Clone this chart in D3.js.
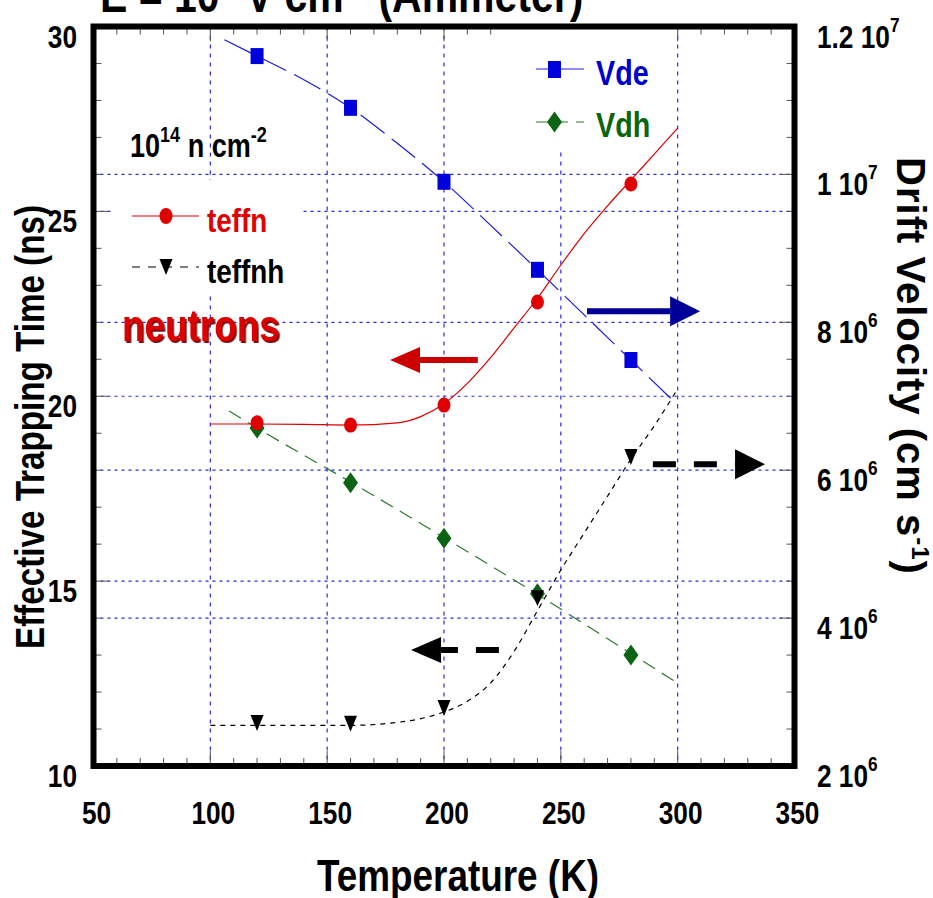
<!DOCTYPE html>
<html>
<head>
<meta charset="utf-8">
<script src="https://cdn.jsdelivr.net/npm/d3@7"></script>
<style>
  body { margin: 0; background: #fff; }
  svg text { font-family: "Liberation Sans", Arial, sans-serif; font-weight: bold; }
</style>
</head>
<body>
<svg id="chart"></svg>
<script>
// measured points (temperature in K)
const temps = [120, 160, 200, 240, 280];
const teffn = [19.28, 19.22, 19.76, 22.55, 25.74];      // ns
const teffnh = [11.16, 11.14, 11.57, 14.54, 18.36];     // ns
const vde = [11.6e6, 10.9e6, 9.9e6, 8.71e6, 7.49e6];    // cm/s
const vdh = [6.57e6, 5.83e6, 5.08e6, 4.33e6, 3.5e6];    // cm/s

// fitted curves
const fitT = [100, 120, 140, 160, 180, 190, 200, 210, 220, 230, 240, 250, 260, 270, 280, 290, 300];
const teffnFit = [19.25, 19.25, 19.24, 19.22, 19.28, 19.45, 19.8, 20.35, 21.05, 21.85, 22.65, 23.55, 24.4, 25.15, 25.85, 26.55, 27.25];
const teffnhFit = [11.1, 11.1, 11.1, 11.1, 11.18, 11.28, 11.46, 11.75, 12.25, 13.1, 14.2, 15.3, 16.3, 17.3, 18.3, 19.2, 20.2];
const vdeFitT = [106, 120, 140, 160, 180, 200, 220, 240, 260, 280, 300];
const vdeFit = [11.82e6, 11.6e6, 11.28e6, 10.9e6, 10.42e6, 9.9e6, 9.31e6, 8.71e6, 8.1e6, 7.49e6, 6.88e6];
const vdhFitT = [108, 120, 160, 200, 240, 280, 300];
const vdhFit = [6.8e6, 6.57e6, 5.84e6, 5.09e6, 4.32e6, 3.52e6, 3.12e6];

// axis ticks
const xTicks = [50, 100, 150, 200, 250, 300, 350];
const leftTicks = [10, 15, 20, 25, 30];
const rightTicks = [2e6, 4e6, 6e6, 8e6, 1e7, 1.2e7];
const rightTickText = [["2 10", "6"], ["4 10", "6"], ["6 10", "6"], ["8 10", "6"], ["1 10", "7"], ["1.2 10", "7"]];

// direction arrows (from, to in data units)
const arrows = [
  { t0: 214.5, t1: 176.9, v: 20.98, axis: "L", color: "#cc0000", dashed: false },
  { t0: 261.2, t1: 309.6, v: 8.15e6, axis: "R", color: "#000099", dashed: false },
  { t0: 289.4, t1: 337.4, v: 6.08e6, axis: "R", color: "#000", dashed: true },
  { t0: 223.5, t1: 185.9, v: 13.14, axis: "L", color: "#000", dashed: true }
];

const width = 933, height = 898;
const narrow = 0.82;
const svg = d3.select("#chart").attr("width", width).attr("height", height);

svg.append("defs").append("filter").attr("id", "shadow")
  .append("feDropShadow").attr("dx", 2).attr("dy", 2).attr("stdDeviation", 0)
  .attr("flood-color", "#7a1010").attr("flood-opacity", 1);

const x = d3.scaleLinear().domain([50, 350]).range([93.5, 794.5]);
const yL = d3.scaleLinear().domain([10, 30]).range([766, 26.5]);
const yR = d3.scaleLinear().domain([2e6, 1.2e7]).range([766, 26.5]);

// condensed bold text, squeezed along its own direction
function label(px, py, size, opts = {}) {
  const g = svg.append("g")
    .attr("transform", `translate(${px},${py}) rotate(${opts.rotate || 0}) scale(${opts.sx || narrow},1)`);
  return g.append("text").attr("font-size", size)
    .attr("text-anchor", opts.anchor || "start")
    .attr("fill", opts.fill || "#000");
}

// title (cut off at the top)
const title = label(100, 12, 50);
title.append("tspan").text("E = 10");
title.append("tspan").attr("dy", -20).attr("font-size", 32).text("4");
title.append("tspan").attr("dy", 20).text(" V cm");
title.append("tspan").attr("dy", -20).attr("font-size", 32).text("-1");
title.append("tspan").attr("dy", 20).text("  (Ammeter)");

// grid
const grid = svg.append("g").attr("stroke", "#2a2ae8").attr("stroke-width", 1.2);
grid.selectAll(".gx").data([100, 150, 200, 250, 300]).enter().append("line")
  .attr("x1", d => x(d)).attr("x2", d => x(d))
  .attr("y1", yL(30)).attr("y2", yL(10))
  .attr("stroke-dasharray", "4,5");
grid.selectAll(".gl").data([15, 20, 25]).enter().append("line")
  .attr("x1", x(50)).attr("x2", x(350))
  .attr("y1", d => yL(d)).attr("y2", d => yL(d))
  .attr("stroke-dasharray", "3,4");
grid.selectAll(".gr").data([4e6, 6e6, 8e6, 1e7]).enter().append("line")
  .attr("x1", x(50)).attr("x2", x(350))
  .attr("y1", d => yR(d)).attr("y2", d => yR(d))
  .attr("stroke-dasharray", "3,4");

// ticks (inside the frame)
const ticks = svg.append("g").attr("stroke", "#555").attr("stroke-width", 1);
const xt = d3.range(60, 350, 10);
ticks.selectAll(".xb").data(xt).enter().append("line")
  .attr("x1", d => x(d)).attr("x2", d => x(d))
  .attr("y1", yL(10)).attr("y2", d => yL(10) - (d % 50 === 0 ? 15 : 8));
ticks.selectAll(".xt").data(xt).enter().append("line")
  .attr("x1", d => x(d)).attr("x2", d => x(d))
  .attr("y1", yL(30)).attr("y2", d => yL(30) + (d % 50 === 0 ? 15 : 8));
const lt = d3.range(11, 30, 1);
ticks.selectAll(".yl").data(lt).enter().append("line")
  .attr("x1", x(50)).attr("x2", d => x(50) + (d % 5 === 0 ? 15 : 8))
  .attr("y1", d => yL(d)).attr("y2", d => yL(d));
const rt = d3.range(2.5e6, 1.2e7, 0.5e6);
ticks.selectAll(".yr").data(rt).enter().append("line")
  .attr("x1", x(350)).attr("x2", d => x(350) - (Math.round(d / 1e6 * 10) % 20 === 0 ? 15 : 8))
  .attr("y1", d => yR(d)).attr("y2", d => yR(d));

// legend backgrounds hide grid and ticks
svg.append("rect").attr("x", 113).attr("y", 180).attr("width", 190).attr("height", 112).attr("fill", "#fff");
svg.append("rect").attr("x", 496).attr("y", 29).attr("width", 164).attr("height", 122).attr("fill", "#fff");

// fit curves
const lineL = d3.line().x(d => x(d[0])).y(d => yL(d[1])).curve(d3.curveMonotoneX);
const lineR = d3.line().x(d => x(d[0])).y(d => yR(d[1])).curve(d3.curveMonotoneX);

svg.append("path").attr("d", lineR(d3.zip(vdeFitT, vdeFit)))
  .attr("fill", "none").attr("stroke", "#1a1ae6").attr("stroke-width", 1.2).attr("stroke-dasharray", "30,9");
svg.append("path").attr("d", lineR(d3.zip(vdhFitT, vdhFit)))
  .attr("fill", "none").attr("stroke", "#2a7a2a").attr("stroke-width", 1.2).attr("stroke-dasharray", "14,8");
svg.append("path").attr("d", lineL(d3.zip(fitT, teffnFit)))
  .attr("fill", "none").attr("stroke", "#e00000").attr("stroke-width", 1.2);
svg.append("path").attr("d", lineL(d3.zip(fitT, teffnhFit)))
  .attr("fill", "none").attr("stroke", "#000").attr("stroke-width", 1.2).attr("stroke-dasharray", "5,5");

// markers
const diamond = "M0,-10.5L7.5,0L0,10.5L-7.5,0Z";
const triDown = "M-6.5,-8L6.5,-8L0,8Z";
svg.selectAll(".sq").data(d3.zip(temps, vde)).enter().append("rect")
  .attr("x", d => x(d[0]) - 6.5).attr("y", d => yR(d[1]) - 8)
  .attr("width", 13).attr("height", 16).attr("fill", "#0000dd");
svg.selectAll(".dm").data(d3.zip(temps, vdh)).enter().append("path")
  .attr("d", diamond).attr("transform", d => `translate(${x(d[0])},${yR(d[1])})`).attr("fill", "#0a6414");
svg.selectAll(".ci").data(d3.zip(temps, teffn)).enter().append("ellipse")
  .attr("cx", d => x(d[0])).attr("cy", d => yL(d[1])).attr("rx", 6.5).attr("ry", 7.5).attr("fill", "#e00000");
svg.selectAll(".tr").data(d3.zip(temps, teffnh)).enter().append("path")
  .attr("d", triDown).attr("transform", d => `translate(${x(d[0])},${yL(d[1])})`).attr("fill", "#000");

// frame
svg.append("rect").attr("x", x(50)).attr("y", yL(30))
  .attr("width", x(350) - x(50)).attr("height", yL(10) - yL(30))
  .attr("fill", "none").attr("stroke", "#000").attr("stroke-width", 6);

// tick labels
xTicks.forEach(d => label(x(d) + 3, 824, 32, { anchor: "middle" }).text(d));
leftTicks.forEach(d => label(77, yL(d) + 21, 32, { anchor: "end" }).text(d));
rightTicks.forEach((d, i) => {
  const t = label(817, yR(d) + 21, 32);
  t.append("tspan").text(rightTickText[i][0]);
  t.append("tspan").attr("dy", -16).attr("font-size", 21).text(rightTickText[i][1]);
});

// axis titles
label(44, 427, 40, { rotate: -90, sx: 0.83, anchor: "middle" }).text("Effective Trapping Time (ns)");
const rtitle = label(897, 366, 40, { rotate: 90, sx: 1, anchor: "middle" }).attr("letter-spacing", 1);
rtitle.append("tspan").text("Drift Velocity (cm s");
rtitle.append("tspan").attr("dy", -15).attr("font-size", 24).text("-1");
rtitle.append("tspan").attr("dy", 15).text(")");
label(458, 891, 45, { anchor: "middle" }).text("Temperature (K)");

// arrows
arrows.forEach(a => {
  const y = a.axis === "L" ? yL(a.v) : yR(a.v);
  const x0 = x(a.t0), x1 = x(a.t1);
  const dir = x1 > x0 ? 1 : -1;
  const head = 30, half = a.axis === "L" ? 13 : 15;
  svg.append("line").attr("x1", x0).attr("x2", x1 - dir * head).attr("y1", y).attr("y2", y)
    .attr("stroke", a.color).attr("stroke-width", 6)
    .attr("stroke-dasharray", a.dashed ? "23,18" : null);
  svg.append("path")
    .attr("d", `M${x1},${y}L${x1 - dir * head},${y - half}L${x1 - dir * head},${y + half}Z`)
    .attr("fill", a.color);
});

// fluence label
const flu = label(130, 157, 33);
flu.append("tspan").text("10");
flu.append("tspan").attr("dy", -15).attr("font-size", 22).text("14");
flu.append("tspan").attr("dy", 15).text(" n cm");
flu.append("tspan").attr("dy", -15).attr("font-size", 22).text("-2");

// left legend
svg.append("line").attr("x1", 132).attr("x2", 199).attr("y1", 216).attr("y2", 216)
  .attr("stroke", "#e00000").attr("stroke-width", 1.2);
svg.append("ellipse").attr("cx", 166).attr("cy", 216).attr("rx", 6.5).attr("ry", 8).attr("fill", "#e00000");
label(207, 232, 34, { fill: "#e00000" }).text("teffn");
svg.append("line").attr("x1", 132).attr("x2", 199).attr("y1", 267).attr("y2", 267)
  .attr("stroke", "#000").attr("stroke-width", 1.2).attr("stroke-dasharray", "8,8");
svg.append("path").attr("d", triDown).attr("transform", "translate(166,267)").attr("fill", "#000");
label(207, 283, 34).text("teffnh");

// right legend
svg.append("line").attr("x1", 536).attr("x2", 584).attr("y1", 69).attr("y2", 69)
  .attr("stroke", "#1a1ae6").attr("stroke-width", 1.2);
svg.append("rect").attr("x", 548).attr("y", 61).attr("width", 13).attr("height", 17).attr("fill", "#0000dd");
label(596, 85, 35, { fill: "#0000cc" }).text("Vde");
svg.append("line").attr("x1", 536).attr("x2", 584).attr("y1", 122).attr("y2", 122)
  .attr("stroke", "#2a7a2a").attr("stroke-width", 1.2).attr("stroke-dasharray", "12,8");
svg.append("path").attr("d", diamond).attr("transform", "translate(554.5,122)").attr("fill", "#0a6414");
label(596, 137, 35, { fill: "#0a640a" }).text("Vdh");

// neutrons label with drop shadow
label(122, 341, 45, { fill: "#dd0000" }).attr("filter", "url(#shadow)").text("neutrons");
</script>
</body>
</html>
